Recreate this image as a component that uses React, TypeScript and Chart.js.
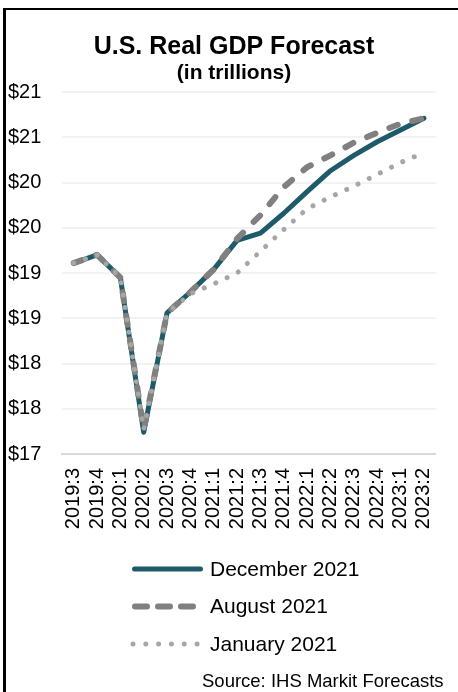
import React, { useEffect, useRef } from 'react';
import { Chart, registerables } from 'chart.js';

Chart.register(...registerables);

const quarters = [
  '2019:3', '2019:4', '2020:1', '2020:2', '2020:3', '2020:4', '2021:1', '2021:2',
  '2021:3', '2021:4', '2022:1', '2022:2', '2022:3', '2022:4', '2023:1', '2023:2',
];
const december2021 = [19.11, 19.2, 18.95, 17.24, 18.56, 18.79, 19.04, 19.36, 19.44, 19.66, 19.9, 20.13, 20.3, 20.45, 20.58, 20.71];
const august2021 = [19.11, 19.2, 18.95, 17.27, 18.56, 18.79, 19.04, 19.38, 19.64, 19.95, 20.17, 20.3, 20.44, 20.55, 20.65, 20.71];
const january2021 = [19.11, 19.2, 18.95, 17.27, 18.56, 18.77, 18.88, 19.0, 19.24, 19.48, 19.71, 19.84, 19.96, 20.09, 20.22, 20.33];
const seriesNames = ['December 2021', 'August 2021', 'January 2021'];
const yMin = 17;
const yMax = 21;
const yStep = 0.5;
const titleText = 'U.S. Real GDP Forecast';
const subtitleText = '(in trillions)';
const sourceText = 'Source: IHS Markit Forecasts';

const FONT = '"Liberation Sans", Arial, sans-serif';
const COLORS = ['#1E5B6A', '#808080', '#A6A6A6'];
const WIDTHS = [5, 6, 5];
const DASHES = [[], [9, 15], [0.01, 12.5]];
const LEGEND_DASHES = [[], [12, 11], [0.01, 12.8]];

const overlayPlugin = {
  id: 'overlay',
  afterDraw(chart: any) {
    const ctx = chart.ctx as CanvasRenderingContext2D;
    ctx.save();
    ctx.fillStyle = '#000';
    ctx.textBaseline = 'alphabetic';
    ctx.textAlign = 'center';
    ctx.font = `bold 25px ${FONT}`;
    ctx.fillText(titleText, 234, 54);
    ctx.font = `bold 21px ${FONT}`;
    ctx.fillText(subtitleText, 234, 79);

    // legend
    for (let i = 0; i < seriesNames.length; i++) {
      const y = 569 + i * 37.5;
      ctx.save();
      ctx.strokeStyle = COLORS[i];
      ctx.lineWidth = WIDTHS[i];
      ctx.lineCap = 'round';
      ctx.setLineDash(LEGEND_DASHES[i]);
      ctx.beginPath();
      if (i === 0) {
        ctx.moveTo(134.5, y);
        ctx.lineTo(200.5, y);
      } else if (i === 1) {
        ctx.moveTo(135, y);
        ctx.lineTo(196, y);
      } else {
        ctx.moveTo(133, y);
        ctx.lineTo(198, y);
      }
      ctx.stroke();
      ctx.restore();
      ctx.fillStyle = '#000';
      ctx.textAlign = 'left';
      ctx.textBaseline = 'middle';
      ctx.font = `21px ${FONT}`;
      ctx.fillText(seriesNames[i], 210, y + 1);
    }

    ctx.textAlign = 'left';
    ctx.textBaseline = 'alphabetic';
    ctx.font = `18.5px ${FONT}`;
    ctx.fillText(sourceText, 202, 687);
    ctx.restore();
  },
};

export default function App() {
  const canvasRef = useRef<HTMLCanvasElement | null>(null);

  useEffect(() => {
    const canvas = canvasRef.current;
    if (!canvas) return;
    const series = [december2021, august2021, january2021];
    const chart = new Chart(canvas, {
      type: 'line',
      data: {
        labels: quarters,
        datasets: series.map((data, i) => ({
          label: seriesNames[i],
          data,
          borderColor: COLORS[i],
          backgroundColor: COLORS[i],
          borderWidth: WIDTHS[i],
          borderDash: DASHES[i],
          borderCapStyle: 'round' as const,
          borderJoinStyle: 'round' as const,
          pointRadius: 0,
          pointHoverRadius: 0,
          tension: 0,
          fill: false,
          order: 3 - i,
        })),
      },
      options: {
        animation: false,
        responsive: false,
        maintainAspectRatio: false,
        devicePixelRatio: 1,
        layout: { padding: { top: 92, left: 8, right: 3, bottom: 158 } },
        plugins: {
          legend: { display: false },
          title: { display: false },
          tooltip: { enabled: false },
        },
        scales: {
          x: {
            type: 'category',
            offset: true,
            grid: { display: false, drawTicks: false },
            border: { display: true, color: '#D9D9D9', width: 2 },
            ticks: {
              autoSkip: false,
              minRotation: 90,
              maxRotation: 90,
              padding: 14,
              color: '#000',
              font: { family: FONT, size: 20 },
            },
            afterFit: (s: any) => { s.height = 80; },
          },
          y: {
            min: yMin,
            max: yMax,
            grid: { color: '#F2F2F2', lineWidth: 2, drawTicks: false },
            border: { display: false },
            ticks: {
              stepSize: yStep,
              crossAlign: 'far',
              padding: 0,
              color: '#000',
              font: { family: FONT, size: 20 },
              callback: (v: any) => '$' + Math.round(Number(v)),
            },
            afterFit: (s: any) => { s.width = 54; },
          },
        },
      },
      plugins: [overlayPlugin],
    });
    return () => chart.destroy();
  }, []);

  return (
    <div style={{ position: 'fixed', left: 0, top: 0, width: 458, height: 692, overflow: 'hidden', background: '#fff' }}>
      <canvas ref={canvasRef} width={462} height={692} style={{ position: 'absolute', left: 0, top: 0, width: 462, height: 692 }} />
      <div
        style={{
          position: 'absolute', left: 3, top: 8, width: 470, height: 700,
          borderLeft: '3px solid #000', borderTop: '2px solid #000', pointerEvents: 'none',
        }}
      />
    </div>
  );
}
